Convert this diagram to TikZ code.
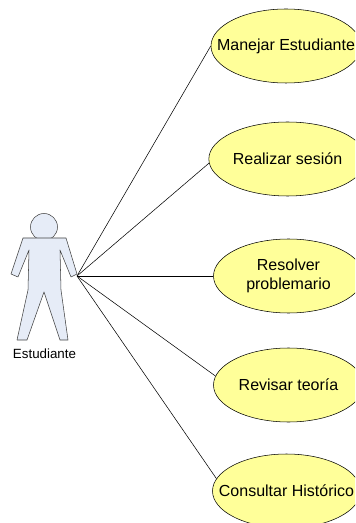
\documentclass[tikz,border=0pt]{standalone}
\usepackage{fontspec}
\setmainfont{Liberation Sans}
\usetikzlibrary{shapes.geometric}
\definecolor{casefill}{HTML}{FFFF99}
\definecolor{actorfill}{HTML}{E6ECF7}
\definecolor{actorline}{HTML}{404040}

\begin{document}
\begin{tikzpicture}[x=0.75pt,y=-0.75pt]
    \useasboundingbox (0,0) rectangle (355,523);
    \clip (0,0) rectangle (355,523);

    \begin{scope}[every node/.style={ellipse,draw=black,fill=casefill,inner xsep=-30pt,inner ysep=-8pt,
            align=center,font=\fontsize{12}{14}\selectfont}]
        \node[minimum width=112.5pt,minimum height=55.5pt] (manejar) at (286,46) {Manejar Estudiante};
        \node[minimum width=118pt,minimum height=55.5pt] (sesion) at (287.5,159) {Realizar sesión};
        \node[minimum width=112.5pt,minimum height=55.5pt] (problemario) at (288.5,276) {Resolver\\problemario};
        \node[minimum width=112.5pt,minimum height=55.5pt] (teoria) at (288.5,385) {Revisar teoría};
        \node[minimum width=111pt,minimum height=55.5pt] (historico) at (286.5,491) {Consultar Histórico};
    \end{scope}

    \begin{scope}[draw=actorline,fill=actorfill,line join=round]
        \filldraw (44,227) circle (13.5);
        \filldraw (23,238) -- (66,238) -- (77,274) -- (71,277) -- (60,250) -- (61,290)
            -- (68,340) -- (60,340) -- (44,292) -- (27,340) -- (17,340) -- (28,290)
            -- (29,250) -- (18,277) -- (11,274) -- cycle;
    \end{scope}
    \node[font=\fontsize{10}{12}\selectfont,inner sep=0pt] (estudiante) at (44.5,354) {Estudiante};

    \coordinate (hub) at (77,276);
    \foreach \target/\ang in {manejar/180,sesion/183,problemario/180,teoria/173,historico/170}{
        \draw[black] (hub) -- (\target.\ang);
    }
\end{tikzpicture}
\end{document}
